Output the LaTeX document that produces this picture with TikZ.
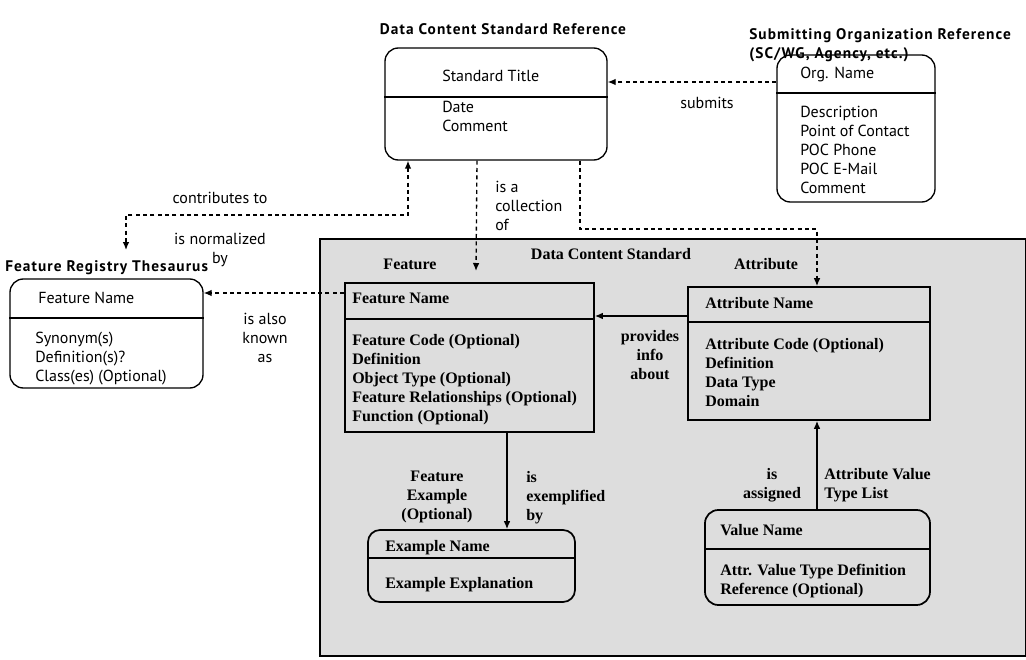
\documentclass[tikz,border=0pt]{standalone}
\usepackage{fontspec}
\setmainfont{PT Sans}
\newfontfamily\dcsfont{Liberation Serif}
\newfontfamily\titlefont[LetterSpace=7]{PT Sans}
\usetikzlibrary{arrows.meta}

\tikzset{
  refbox/.style={draw, line width=1pt, rounded corners=10pt, inner sep=0pt},
  dcsbox/.style={draw, line width=1.3pt, inner sep=0pt},
  reftext/.style={font=\fontsize{12}{14.25}\selectfont, inner sep=0pt, align=left},
  reftitle/.style={font=\fontsize{11.5}{14.25}\selectfont\titlefont\bfseries, inner sep=0pt, align=left},
  dcstext/.style={font=\fontsize{12}{14.25}\selectfont\dcsfont\bfseries, inner sep=0pt, align=left},
  assoc/.style={line width=1pt, dash pattern=on 3pt off 2.5pt, -{Latex[length=6pt,width=5pt]}},
  link/.style={line width=1pt, -{Latex[length=6pt,width=5pt]}}
}

\begin{document}
\begin{tikzpicture}[x=0.75pt,y=-0.75pt]
\useasboundingbox (0,0) rectangle (1026,660);

% Data content standard area
\node[draw, line width=1.2pt, fill=gray!27, minimum width=529.5pt, minimum height=312.75pt, inner sep=0pt] (dcs) at (673,447.5) {};

% Draw the reference boxes
\node[refbox, minimum width=166.5pt, minimum height=84pt] (std) at (496,104) {};
\node[refbox, minimum width=118.5pt, minimum height=110.25pt] (org) at (856,128.5) {};
\node[refbox, minimum width=144.75pt, minimum height=81.75pt] (frt) at (106.5,333.5) {};
\draw[line width=1pt] (std.west |- 0,97) -- (std.east |- 0,97);
\draw[line width=1pt] (org.west |- 0,93) -- (org.east |- 0,93);
\draw[line width=1pt] (frt.west |- 0,318) -- (frt.east |- 0,318);

% Draw the standard boxes
\node[dcsbox, minimum width=186.75pt, minimum height=111.75pt] (feat) at (469.5,357.5) {};
\node[dcsbox, minimum width=181.5pt, minimum height=99.75pt] (attr) at (809,353.5) {};
\node[dcsbox, rounded corners=9pt, minimum width=155.25pt, minimum height=54pt] (expl) at (471.5,566) {};
\node[dcsbox, rounded corners=10pt, minimum width=168.75pt, minimum height=71.25pt] (val) at (817.5,557.5) {};
\draw[line width=1.3pt] (feat.west |- 0,319) -- (feat.east |- 0,319);
\draw[line width=1.3pt] (attr.west |- 0,322) -- (attr.east |- 0,322);
\draw[line width=1.3pt] (expl.west |- 0,558) -- (expl.east |- 0,558);
\draw[line width=1.3pt] (val.west |- 0,549) -- (val.east |- 0,549);

% Titles
\node[reftitle] (stdtitle) at (503,29) {Data Content Standard Reference};
\node[reftitle, anchor=north west] (orgtitle) at (749,28) {Submitting Organization Reference\\(SC/WG, Agency, etc.)};
\node[reftitle, anchor=west] (frttitle) at (5,268) {Feature Registry Thesaurus};
\node[dcstext] (dcstitle) at (611,254) {Data Content Standard};
\node[dcstext] (feattitle) at (410,264) {Feature};
\node[dcstext] (attrtitle) at (766,264) {Attribute};

% Box contents
\node[reftext, anchor=west] (stdhead) at (442,76) {Standard Title};
\node[reftext, anchor=north west] (stdbody) at (442,101) {Date\\Comment};
\node[reftext, anchor=west] (orghead) at (800,75) {Org. Name};
\node[reftext, anchor=north west] (orgbody) at (800,106) {Description\\Point of Contact\\POC Phone\\POC E-Mail\\Comment};
\node[reftext, anchor=west] (frthead) at (38,298) {Feature Name};
\node[reftext, anchor=north west] (frtbody) at (35,332) {Synonym(s)\\Definition(s)?\\Class(es) (Optional)};
\node[dcstext, anchor=west] (feathead) at (352,298) {Feature Name};
\node[dcstext, anchor=north west] (featbody) at (352,334) {Feature Code (Optional)\\Definition\\Object Type (Optional)\\Feature Relationships (Optional)\\Function (Optional)};
\node[dcstext, anchor=west] (attrhead) at (705,303) {Attribute Name};
\node[dcstext, anchor=north west] (attrbody) at (705,338) {Attribute Code (Optional)\\Definition\\Data Type\\Domain};
\node[dcstext, anchor=west] (explhead) at (385,548) {Example Name};
\node[dcstext, anchor=west] (explbody) at (385,585) {Example Explanation};
\node[dcstext, anchor=west] (valhead) at (720,530) {Value Name};
\node[dcstext, anchor=north west] (valbody) at (720,564) {Attr. Value Type Definition\\Reference (Optional)};

% Relationship labels
\node[reftext] (submits) at (707,103) {submits};
\node[reftext] (contrib) at (220,198) {contributes to};
\node[reftext, align=center, anchor=north] (normal) at (220,233) {is normalized\\by};
\node[reftext, anchor=north west] (collect) at (495,181) {is a\\collection\\of};
\node[reftext, align=center, anchor=north] (known) at (265,313) {is also\\known\\as};
\node[dcstext, align=center, anchor=north] (provides) at (650,330) {provides\\info\\about};
\node[dcstext, align=center, anchor=north] (featex) at (437,471) {Feature\\Example\\(Optional)};
\node[dcstext, anchor=north west] (exempl) at (526,471) {is\\exemplified\\by};
\node[dcstext, align=center, anchor=north] (assigned) at (772,468) {is\\assigned};
\node[dcstext, anchor=north west] (valtype) at (824,468) {Attribute Value\\Type List};

% Free arrow ends
\coordinate (thesin) at (126,250);
\coordinate (featin) at (476,271);

% Connectors
\draw[assoc] (org.west |- 0,82) -- (std.east |- 0,82);
\draw[assoc, {Latex[length=6pt,width=5pt]}-{Latex[length=6pt,width=5pt]}] (std.south -| 408,0) -- (408,215) -- (126,215) -- (thesin);
\draw[assoc] (std.south -| 477,0) -- (featin);
\draw[assoc] (std.south -| 580,0) -- (580,229) -- (817,229) -- (attr.north -| 817,0);
\draw[assoc] (feat.west |- 0,293) -- (frt.east |- 0,293);
\draw[link] (attr.west |- 0,316) -- (feat.east |- 0,316);
\draw[link] (feat.south -| 507,0) -- (expl.north -| 507,0);
\draw[link] (val.north -| 817,0) -- (attr.south -| 817,0);
\end{tikzpicture}
\end{document}
